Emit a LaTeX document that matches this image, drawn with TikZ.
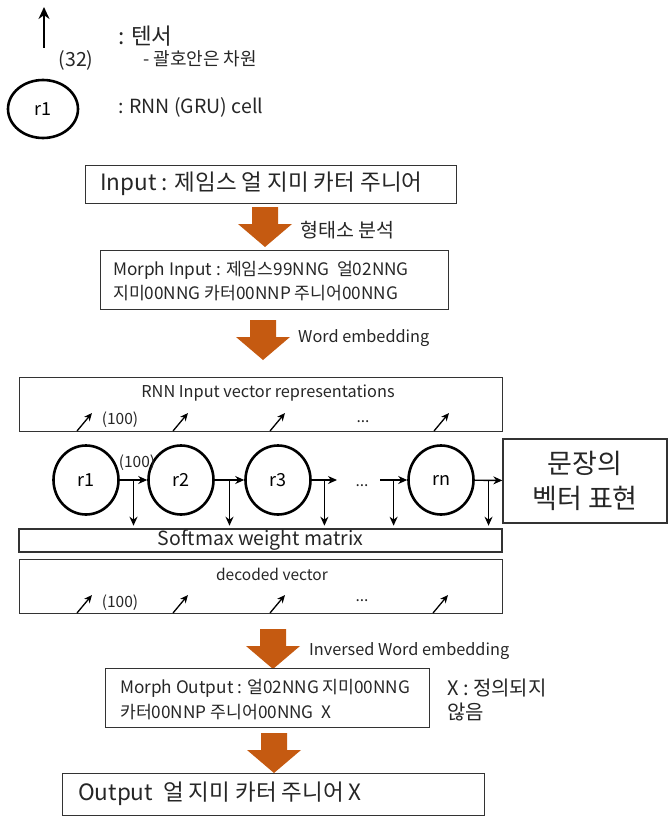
\documentclass[tikz,border=0pt]{standalone}
\usepackage{fontspec}
\setmainfont{Noto Sans CJK KR}
\usetikzlibrary{arrows.meta,calc,shapes.geometric}
\definecolor{brique}{RGB}{197,90,17}

\begin{document}
\begin{tikzpicture}[x=1pt,y=-1pt]

\tikzset{box/.style={draw=black!80,line width=1.4pt,inner sep=0pt}, %cadre des blocs
	cell/.style={draw,ellipse,line width=2.6pt,minimum width=65pt,minimum height=69pt,inner sep=0pt,font=\fontsize{18}{20}\selectfont},
	link/.style={-{Stealth[length=9pt,width=8pt]},line width=1.4pt},
	tiny/.style={-{Stealth[length=8pt,width=7pt]},line width=1.3pt},
	big/.style={{Stealth[length=12pt,width=11pt]}-,line width=1.6pt},
	txt/.style={inner sep=0pt,text=black!85},
	t15/.style={font=\fontsize{15.5}{18}\selectfont},
	t16/.style={font=\fontsize{16.3}{19}\selectfont},
	t17/.style={font=\fontsize{17.2}{23}\selectfont},
	t19/.style={font=\fontsize{19.5}{24}\selectfont},
	t22/.style={font=\fontsize{22.5}{26}\selectfont},
	pics/bigarrow/.style={code={\fill[brique] (-13,0) -- (13,0) -- (13,17) -- (27,17) -- (0,40) -- (-27,17) -- (-13,17) -- cycle;}}}

\useasboundingbox (0,0) rectangle (669,816);

%----------legende------------
\coordinate (lgbas) at (44,48);
\coordinate (lghaut) at (44,7);
\draw [big] (lghaut) -- (lgbas);
\node[txt,font=\fontsize{19.5}{22}\selectfont] (dim) at (76,60) {(32)};
\node[txt,t22,anchor=west] (tens) at (118,36) {: 텐서};
\node[txt,font=\fontsize{18}{20}\selectfont,anchor=west] (paren) at (143,59) {- 괄호안은 차원};
\node[cell,minimum width=70pt,minimum height=58pt] (leg) at (43,109) {r1};
\node[txt,t19,anchor=west] (cellkey) at (118,107) {: RNN (GRU) cell};

%----------entree------------
\node[box,minimum width=371pt,minimum height=38pt,anchor=north west] (input) at (85,165) {};
\node[txt,t22,anchor=west] (inputtxt) at (100,184) {Input : 제임스 얼 지미 카터 주니어};

\pic at (265,207) {bigarrow};
\node[txt,t19,anchor=west] (morpho) at (300,230) {형태소 분석};

\node[box,minimum width=348pt,minimum height=59pt,anchor=north west] (morphin) at (100,250) {};
\node[txt,t17,anchor=west] (morphin1) at (113,270) {Morph Input : 제임스99NNG\ \ 얼02NNG};
\node[txt,t17,anchor=west] (morphin2) at (113,293) {지미00NNG 카터00NNP 주니어00NNG};

\pic at (263,320) {bigarrow};
\node[txt,t16,anchor=west] (embed) at (298,338) {Word embedding};

%----------couche RNN------------
\node[box,minimum width=483pt,minimum height=54pt,anchor=north west] (rnnin) at (19,377) {};
\node[txt,t16] (rnnintxt) at (268,393) {RNN Input vector\ representations};
\foreach \x in {77,173,270,434}
	\draw [tiny] (\x,431) --++(15,-18);
\node[txt,t15] (dimin) at (120,420) {(100)};
\node[txt,t15] (dotsin) at (363,422) {...};

\foreach \x/\n in {86/1,181/2,278/3}
	\node[cell] (r\n) at (\x,480) {r\n};
\node[cell] (rn) at (441,480) {rn};
\node[box,minimum width=164pt,minimum height=84pt,align=center,txt,font=\fontsize{27}{35}\selectfont] (phrase) at (585,481) {문장의\\벡터 표현};

\node[box,line width=2.6pt,minimum width=483pt,minimum height=23pt,txt,t19] (soft) at (260.5,540.5) {Softmax weight matrix};

\coordinate (r3out) at (337,480);
\coordinate (rnin) at (380,480);
\draw [link] (r1) -- (r2);
\draw [link] (r2) -- (r3);
\draw [link] (r3) -- (r3out);
\draw [link] (rnin) -- (rn);
\draw [link] (rn) -- (phrase);

\coordinate (b1) at ($(r1.east)!.5!(r2.west)$);
\coordinate (b2) at ($(r2.east)!.5!(r3.west)$);
\coordinate (b3) at ($(r3.east)!.5!(r3out)$);
\coordinate (b4) at ($(rnin)!.5!(rn.west)$);
\coordinate (b5) at ($(rn.east)!.5!(phrase.west)$);
\foreach \b in {b1,b2,b3,b4,b5}
	\draw [link,shorten >=2pt] (\b) -- (\b |- soft.north);

\node[txt,t15] (dimlink) at (137,463) {(100)};
\node[txt,t15] (dotscell) at (362,486) {...};

%----------decodage------------
\node[box,minimum width=483pt,minimum height=54pt,anchor=north west] (decod) at (19,559) {};
\node[txt,t15] (decodtxt) at (272,574) {decoded\ vector};
\foreach \x in {77,173,270,433}
	\draw [tiny] (\x,613) --++(15,-18);
\node[txt,t15] (dimout) at (120,603) {(100)};
\node[txt,t15] (dotsout) at (362,601) {...};

\pic at (273,629) {bigarrow};
\node[txt,t16,anchor=west] (invembed) at (309,651) {Inversed Word embedding};

\node[box,minimum width=324pt,minimum height=59pt,anchor=north west] (morphout) at (105,668) {};
\node[txt,t17,anchor=west] (morphout1) at (120,688) {Morph Output : 얼02NNG 지미00NNG};
\node[txt,t17,anchor=west] (morphout2) at (120,712) {카터00NNP 주니어00NNG\ \ X};
\node[txt,anchor=west,align=left,font=\fontsize{20}{24}\selectfont] (undef) at (447,700) {X : 정의되지\\않음};

\pic at (274,733) {bigarrow};

\node[box,minimum width=422pt,minimum height=42pt,anchor=north west] (output) at (62,773) {};
\node[txt,t22,anchor=west] (outputtxt) at (78,794) {Output\ \ 얼 지미 카터 주니어 X};

\end{tikzpicture}
\end{document}
